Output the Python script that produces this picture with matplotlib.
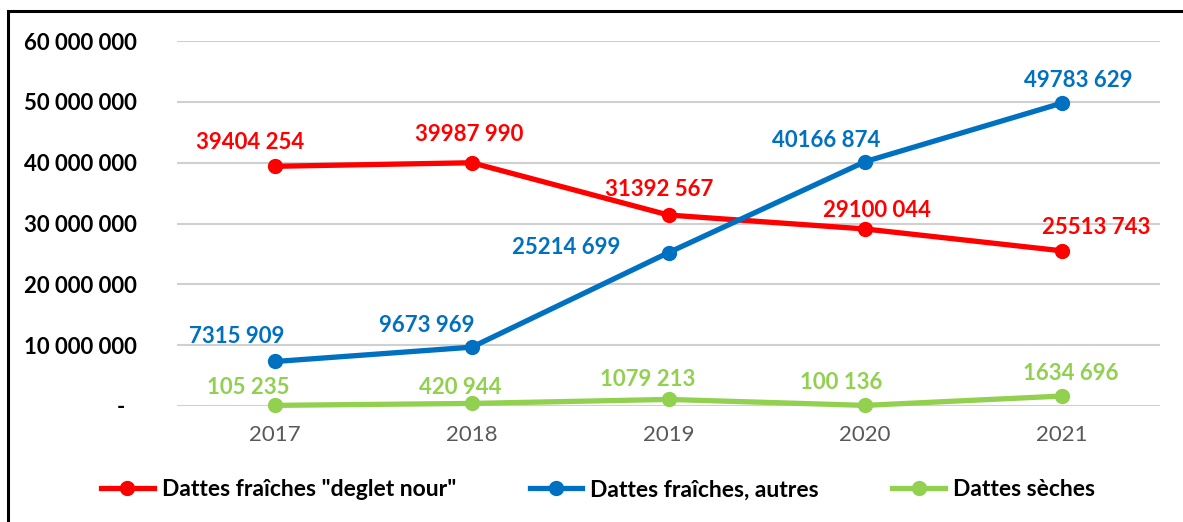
import matplotlib
matplotlib.use("Agg")
import matplotlib.pyplot as plt
from matplotlib.lines import Line2D
from matplotlib.patches import Rectangle

years = ["2017", "2018", "2019", "2020", "2021"]
deglet_nour = [39404254, 39987990, 31392567, 29100044, 25513743]
fraiches_autres = [7315909, 9673969, 25214699, 40166874, 49783629]
seches = [105235, 420944, 1079213, 100136, 1634696]
series_names = ['Dattes fraîches "deglet nour"', "Dattes fraîches, autres", "Dattes sèches"]
series_colors = ["#FF0000", "#0070C0", "#92D050"]
yticks = [0, 10000000, 20000000, 30000000, 40000000, 50000000, 60000000]

# label placement offsets (pixels: dx, dy) relative to each point
label_offsets = [
    [(-25, 24), (-3, 28), (-9, 26), (12, 18), (34, 23)],
    [(-39, 25), (-45, 22), (-102, 5), (-39, 21), (17, 23)],
    [(-27, 18), (-12, 16), (-21, 20), (-24, 23), (9, 23)],
]


def fmt_label(v):
    s = f"{v:,}".split(",")
    if len(s) == 3:
        return s[0] + s[1] + " " + s[2]
    return " ".join(s)


def fmt_tick(v):
    if v == 0:
        return "-"
    return f"{int(v):,}".replace(",", " ")


plt.rcParams["font.family"] = ["Lato", "DejaVu Sans"]
FS = 16

W, H = 1183, 522
fig = plt.figure(figsize=(W / 100, H / 100), dpi=100)
ax = fig.add_axes([177 / W, (H - 406) / H, (1160 - 177) / W, (406 - 41) / H])

x = list(range(len(years)))
handles = []
for vals, name, col, offs in zip([deglet_nour, fraiches_autres, seches], series_names,
                                 series_colors, label_offsets):
    ax.plot(x, vals, color=col, lw=3.8, marker="o", ms=10, clip_on=False, zorder=3,
            solid_capstyle="round")
    for xi, v, (dx, dy) in zip(x, vals, offs):
        ax.annotate(fmt_label(v), (xi, v), xytext=(dx, dy), textcoords="offset pixels",
                    ha="center", va="center", color=col, fontsize=FS, fontweight="bold",
                    zorder=4)
    handles.append(Line2D([0], [0], color=col, lw=3.8, marker="o", ms=10))

ax.set_xlim(-0.5, len(years) - 0.5)
ax.set_ylim(0, 60000000)
ax.set_yticks(yticks)
ax.set_yticklabels([fmt_tick(v) for v in yticks], fontsize=FS, fontweight="bold", color="black")
ax.set_xticks(x)
ax.set_xticklabels(years, fontsize=FS, color="#595959")
ax.tick_params(axis="both", length=0)
ax.tick_params(axis="y", pad=29)
ax.tick_params(axis="x", pad=14)
ylbls = ax.get_yticklabels()
ylbls[0].set_x(-0.012)
ax.grid(axis="y", color="#D0D0D0", lw=1.5)
ax.set_axisbelow(True)
for sp in ax.spines.values():
    sp.set_visible(False)

leg = fig.legend(handles, series_names, loc="center", bbox_to_anchor=(598 / W, (H - 490) / H),
                 ncol=3, frameon=False, prop={"size": 16.5, "weight": "bold"},
                 handlelength=2.3, handletextpad=0.35, columnspacing=3.2)

fig.patches.append(Rectangle((7.5 / W, -0.05), 1.2, (H - 11) / H + 0.05,
                             transform=fig.transFigure, fill=False, ec="black", lw=2.2))

fig.savefig("out.png", dpi=100)
